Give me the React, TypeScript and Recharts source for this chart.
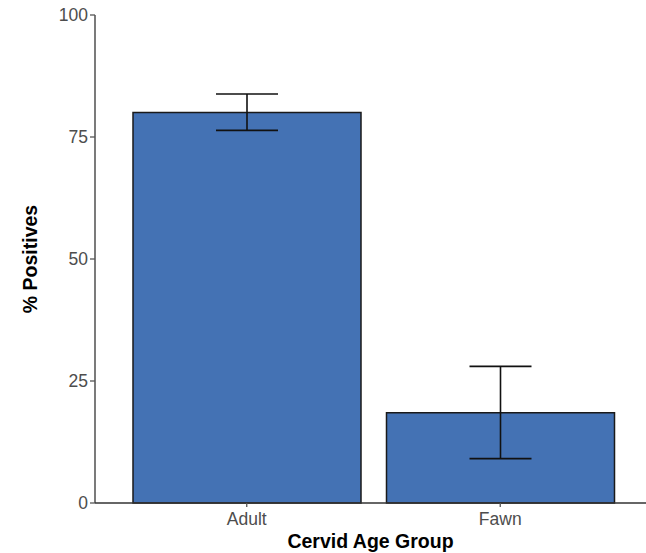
import React from 'react';
import { BarChart, Bar, XAxis, YAxis, ErrorBar, Label } from 'recharts';

const ageGroups = ['Adult', 'Fawn'];
const pctPositive = [80.0, 18.5];
const errLow = [3.65, 9.4];
const errHigh = [3.8, 9.5];
const yTicks = [0, 25, 50, 75, 100];

const data = ageGroups.map((group, i) => ({
  group,
  value: pctPositive[i],
  err: [errLow[i], errHigh[i]],
}));

const tickStyle = { fontFamily: 'Liberation Sans, Arial, sans-serif', fontSize: 17.5, fill: '#4d4d4d' };
const titleStyle = { fontFamily: 'Liberation Sans, Arial, sans-serif', fontSize: 19.5, fontWeight: 'bold', fill: '#000' };

export default function App() {
  return (
    <div style={{ position: 'absolute', left: 0, top: 0, background: '#fff' }}>
      <BarChart
        width={646}
        height={553}
        data={data}
        margin={{ top: 15, right: 0, bottom: 0, left: 0 }}
      >
        <XAxis
          dataKey="group"
          height={50}
          padding={{ left: 25, right: 19 }}
          stroke="#333"
          strokeWidth={1.3}
          tickSize={4}
          tickMargin={6}
          tick={tickStyle}
          tickLine={{ stroke: '#555' }}
        >
          <Label value="Cervid Age Group" position="insideBottom" offset={5} style={titleStyle} />
        </XAxis>
        <YAxis
          width={95}
          domain={[0, 100]}
          ticks={yTicks}
          stroke="#333"
          strokeWidth={1.3}
          tickSize={5}
          tickMargin={2}
          tick={tickStyle}
          tickLine={{ stroke: '#555' }}
        >
          <Label value="% Positives" angle={-90} position="insideLeft" offset={30} style={{ ...titleStyle, textAnchor: 'middle' }} />
        </YAxis>
        <Bar dataKey="value" fill="#4472b4" stroke="#1a1a1a" strokeWidth={1.5} barSize={228} isAnimationActive={false}>
          <ErrorBar dataKey="err" width={31} stroke="#111" strokeWidth={1.6} />
        </Bar>
      </BarChart>
    </div>
  );
}
